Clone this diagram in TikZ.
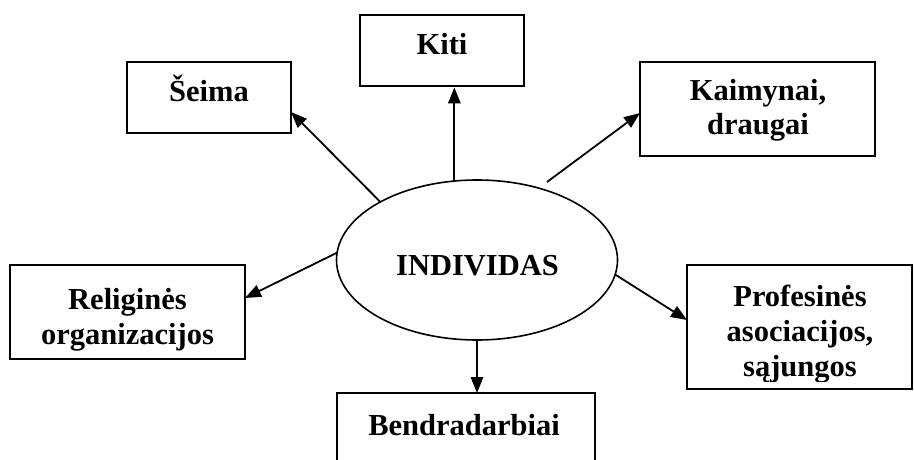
\documentclass[tikz,border=0pt]{standalone}
\usepackage{fontspec}
\setmainfont{Liberation Serif}
\usetikzlibrary{arrows.meta,shapes.geometric}
\begin{document}
\begin{tikzpicture}[x=1pt,y=-1pt,
  box/.style={draw, line width=1.8pt, rectangle, inner sep=0pt, outer sep=0pt},
  oval/.style={draw, line width=1.6pt, ellipse, inner sep=0pt, outer sep=0pt},
  lbl/.style={anchor=base, inner sep=0pt, font=\fontsize{30.5}{35}\selectfont\bfseries},
  conn/.style={line width=1.8pt, -{Triangle[length=16pt,width=12.5pt]}}]
\clip (0,0) rectangle (914,460);
% boxes
\node[box, minimum width=164pt, minimum height=71pt] (seima) at (209,97.5) {};
\node[box, minimum width=164pt, minimum height=71pt] (kiti) at (442,50.5) {};
\node[box, minimum width=235pt, minimum height=94pt] (kaim) at (757.5,109) {};
\node[box, minimum width=235pt, minimum height=94pt] (rel) at (127.5,312) {};
\node[box, minimum width=225pt, minimum height=124pt] (prof) at (799.5,327) {};
\node[box, minimum width=258pt, minimum height=87pt] (bend) at (466,436.5) {};
\node[oval, minimum width=281pt, minimum height=160pt] (ind) at (477,260) {};
% texts
\node[lbl] (tseima) at (209,102) {Šeima};
\node[lbl] (tkiti) at (442,55) {Kiti};
\node[lbl] (tkaim) at (758,100) {\begin{tabular}[t]{@{}c@{}}Kaimynai,\\draugai\end{tabular}};
\node[lbl] (trel) at (127.5,309) {\begin{tabular}[t]{@{}c@{}}Religinės\\organizacijos\end{tabular}};
\node[lbl] (tind) at (477.5,275) {INDIVIDAS};
\node[lbl] (tbend) at (464,435) {Bendradarbiai};
\begin{scope}
\clip (688,266) rectangle (911,381);
\node[lbl] (tprof) at (800,306) {\begin{tabular}[t]{@{}c@{}}Profesinės\\asociacijos,\\sąjungos\end{tabular}};
\end{scope}
% connectors
\coordinate (kstart) at (547,182);
\draw[conn] (ind.149) -- ([yshift=-14.5pt]seima.east);
\draw[conn] (ind.106) -- ([yshift=-1.5pt]ind.106 |- kiti.south);
\draw[conn] (kstart) -- ([yshift=-4pt]kaim.west);
\draw[conn] (ind.177) -- ([yshift=14pt]rel.east);
\draw[conn] (ind.-6) -- ([yshift=7pt]prof.west);
\draw[conn] (ind.south) -- (ind.south |- bend.north);
\end{tikzpicture}
\end{document}
